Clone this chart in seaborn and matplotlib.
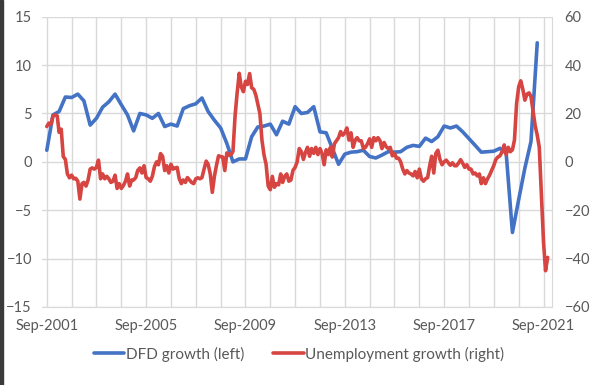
import pandas as pd
import matplotlib.pyplot as plt
import matplotlib.dates as mdates
from matplotlib.patches import Rectangle
import seaborn as sns

sns.set_style('white')
plt.rcParams['font.family'] = ['Lato', 'DejaVu Sans']

# DFD growth, quarterly, % (left axis), Sep-2001 .. Jun-2021
dfd_growth = [
    1.2, 4.85, 5.2, 6.7, 6.65, 7.0, 6.3, 3.8, 4.5, 5.65,
    6.2, 7.0, 5.9, 4.85, 3.2, 5.0, 4.85, 4.5, 5.0, 3.65,
    3.9, 3.7, 5.5, 5.8, 6.0, 6.6, 5.2, 4.3, 3.5, 1.9,
    0.0, 0.3, 0.3, 2.6, 3.6, 3.7, 3.9, 2.8, 4.2, 3.9,
    5.7, 5.0, 5.1, 5.7, 3.1, 3.0, 1.4, -0.25, 0.8, 1.0,
    1.05, 1.2, 0.55, 0.4, 0.7, 1.05, 1.0, 1.05, 1.5, 1.7,
    1.6, 2.45, 2.1, 2.6, 3.7, 3.5, 3.7, 3.1, 2.4, 1.7,
    1.0, 1.05, 1.1, 1.4, 0.9, -7.3, -3.9, -0.65, 2.1, 12.3,
]

# Unemployment growth, monthly, % (right axis), Sep-2001 .. Nov-2021
unemp_growth = [
    14.6, 16, 15.5, 19, 19.4, 19, 12.2, 13.5, 2.2, 1,
    -5, -6.6, -5.5, -7, -6.8, -8, -15.4, -9, -8.5, -10,
    -7.5, -3, -2.5, -3, -2.3, 0.7, -7, -5, -7, -6,
    -7, -8.5, -8, -5.5, -11, -9, -11, -9.8, -8, -5,
    -10, -7.5, -7.5, -6.5, -3.5, -2.5, -4.6, -1.6, -6.5, -7,
    -8, -6, -2, 0, -1.2, 3.4, 2.3, -3.6, -1.6, -4.6,
    -1, -3, -2.5, -2.3, -7, -9, -7.5, -8.5, -6.5, -7.5,
    -8.5, -9, -7, -6.6, -7, -6.5, -3, 0.3, -1, -5,
    -12.6, -6, -1.5, 2.5, 2.2, 2, -3.6, 3.7, 2.8, 3,
    4.3, 19, 28.4, 36.6, 31, 29, 33.3, 32, 36.5, 30.6,
    30, 27.5, 24, 20, 9, 2.8, -1, -10, -11.5, -6,
    -10.5, -9, -9.5, -5, -8.5, -6, -5, -8, -7.5, -3.5,
    -2.3, 0, 5.5, 4.2, 1, 4, 6, 2.3, 5.5, 3.5,
    6, 3, 5.5, 3.5, -1.2, 5, 3, 6, 2, 7.5,
    8.7, 10, 12.5, 11, 12, 14, 9, 12, 6, 9,
    10, 8.7, 8.7, 5.5, 6, 7.5, 9.5, 6, 10, 8.7,
    10, 8.7, 5.5, 8, 6.3, 5.5, 6, 2.5, 3.5, 1.5,
    1.5, 0, -3, -5, -3.6, -4.6, -5, -5.8, -4, -6.6,
    -3, -7, -8, -7, -6.5, -1.5, 2.3, -4.6, 3.5, 4.8,
    1, -1.2, 0, 0.7, -0.4, -1.4, -0.4, -1.6, -1.6, -0.5,
    0.9, -0.6, -2.3, -1.2, -3, -3, -5, -4.6, -5.8, -5,
    -9, -6.6, -9, -7, -5.5, -3.5, -1.5, 1, 2, 2.5,
    4.2, 7, 3, 6, 4.2, 5, 9, 24, 31, 33.5,
    30, 25.5, 28, 28.5, 27, 21, 15, 11, 6, -13,
    -33, -45, -39.5,
]

label_years = [2001, 2005, 2009, 2013, 2017, 2021]

q_dates = pd.date_range('2001-09-01', periods=len(dfd_growth), freq='3MS')
m_dates = pd.date_range('2001-09-01', periods=len(unemp_growth), freq='MS')
dfd = pd.DataFrame({'date': q_dates, 'value': dfd_growth})
unemp = pd.DataFrame({'date': m_dates, 'value': unemp_growth})

blue = '#4472C4'
red = '#D64541'
grid_c = '#D9D9D9'
txt_c = '#595959'

fig = plt.figure(figsize=(5.98, 3.85), dpi=100)
ax = fig.add_axes([41.7 / 598, 1 - 307 / 385, (552 - 41.7) / 598, (307 - 16.7) / 385])
ax2 = ax.twinx()

sns.lineplot(data=dfd, x='date', y='value', ax=ax, color=blue, linewidth=2.6,
             label='DFD growth (left)', legend=False)
sns.lineplot(data=unemp, x='date', y='value', ax=ax2, color=red, linewidth=2.6,
             label='Unemployment growth (right)', legend=False)

ax.set_ylim(-15, 15)
ax.set_yticks(range(-15, 16, 5))
ax2.set_ylim(-60, 60)
ax2.set_yticks(range(-60, 61, 20))

ax.set_xlim(pd.Timestamp('2001-06-18'), pd.Timestamp('2022-01-04'))
ax.set_xticks([pd.Timestamp(f'{y}-09-01') for y in label_years])
ax.xaxis.set_minor_locator(mdates.YearLocator(1, month=9, day=1))
ax.xaxis.set_major_formatter(mdates.DateFormatter('%b-%Y'))

ax.grid(True, which='both', axis='x', color=grid_c, linewidth=1)
ax.grid(True, which='major', axis='y', color=grid_c, linewidth=1)
ax.set_axisbelow(True)

for a in (ax, ax2):
    a.set_xlabel('')
    a.set_ylabel('')
    for s in ('top', 'left', 'right'):
        a.spines[s].set_visible(False)
    a.spines['bottom'].set_color(grid_c)
ax2.spines['bottom'].set_visible(False)
ax.spines['right'].set_visible(True)
ax.spines['right'].set_color(grid_c)

ax.tick_params(axis='y', which='both', length=0, pad=7, labelsize=10.5, labelcolor=txt_c)
ax.tick_params(axis='x', which='both', length=0, pad=8.5, labelsize=10.5, labelcolor=txt_c)
ax2.tick_params(axis='y', length=0, pad=9, labelsize=10.5, labelcolor=txt_c)

handles = ax.get_lines()[:1] + ax2.get_lines()[:1]
fig.legend(handles, [h.get_label() for h in handles], loc='center',
           bbox_to_anchor=(0.5, 1 - 354 / 385), ncol=2, frameon=False,
           fontsize=11, labelcolor=txt_c, handlelength=2.0,
           handletextpad=0.1, columnspacing=1.9)

fig.patches.append(Rectangle((0, 0), 3 / 598, 1, transform=fig.transFigure,
                             color='#3A3A3A', zorder=10))

plt.savefig('out.png', dpi=100)
